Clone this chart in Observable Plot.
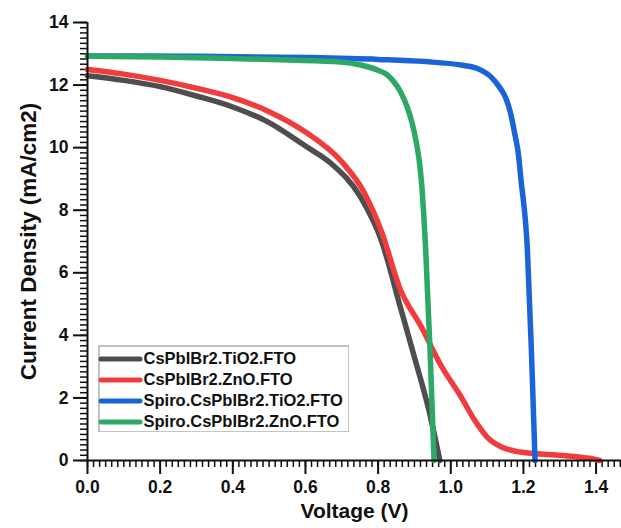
<!DOCTYPE html>
<html>
<head>
<meta charset="utf-8">
<script src="https://cdn.jsdelivr.net/npm/d3@7"></script>
<script src="https://cdn.jsdelivr.net/npm/@observablehq/plot@0.6"></script>
<style>
  html, body { margin: 0; padding: 0; background: #fff; }
  #wrap { position: relative; width: 621px; height: 528px; }
  #key { position: absolute; left: 98px; top: 345px; }
</style>
</head>
<body>
<div id="wrap"><div id="chart"></div><div id="key"></div></div>
<script>
const seriesNames = ["CsPbIBr2.TiO2.FTO", "CsPbIBr2.ZnO.FTO", "Spiro.CsPbIBr2.TiO2.FTO", "Spiro.CsPbIBr2.ZnO.FTO"];
const seriesColors = ["#4e4e4e", "#f03c3c", "#1a64d8", "#2ea866"];

const vTiO2 = [0, 0.1, 0.2, 0.3, 0.4, 0.5, 0.6, 0.67, 0.75, 0.81, 0.86, 0.9, 0.94, 0.97];
const jTiO2 = [12.3, 12.15, 11.95, 11.65, 11.3, 10.8, 10.05, 9.5, 8.45, 7.0, 4.95, 3.3, 1.6, 0];

const vZnO = [0, 0.1, 0.2, 0.3, 0.4, 0.5, 0.6, 0.7, 0.76, 0.81, 0.86, 0.92, 0.97, 1.03, 1.065, 1.1, 1.14, 1.19, 1.27, 1.34, 1.38, 1.41];
const jZnO = [12.5, 12.35, 12.15, 11.9, 11.6, 11.15, 10.5, 9.55, 8.6, 7.3, 5.5, 4.25, 3.1, 2.0, 1.3, 0.75, 0.43, 0.27, 0.19, 0.13, 0.07, 0];

const vSpiroTiO2 = [0, 0.3, 0.6, 0.8, 0.93, 1.028, 1.073, 1.11, 1.133, 1.152, 1.165, 1.176, 1.186, 1.193, 1.211, 1.222, 1.232];
const jSpiroTiO2 = [12.93, 12.92, 12.88, 12.82, 12.75, 12.64, 12.53, 12.27, 11.95, 11.57, 11.09, 10.45, 9.81, 9.01, 6.72, 3.52, 0];

const vSpiroZnO = [0, 0.2, 0.4, 0.55, 0.697, 0.752, 0.798, 0.826, 0.844, 0.862, 0.88, 0.894, 0.904, 0.913, 0.919, 0.931, 0.943, 0.954];
const jSpiroZnO = [12.92, 12.9, 12.85, 12.8, 12.74, 12.64, 12.48, 12.32, 12.1, 11.78, 11.3, 10.77, 10.24, 9.6, 8.96, 6.72, 3.52, 0];

const xTicks = [0, 0.2, 0.4, 0.6, 0.8, 1.0, 1.2, 1.4];
const yTicks = [0, 2, 4, 6, 8, 10, 12, 14];
const xMinor = d3.range(0, 89).map(i => i * 0.2 / 12).filter(v => v <= 1.47);
const yMinor = d3.range(0, 85).map(i => i / 6).filter(v => v <= 14.001);

const allV = [vTiO2, vZnO, vSpiroTiO2, vSpiroZnO];
const allJ = [jTiO2, jZnO, jSpiroTiO2, jSpiroZnO];
const rows = [];
allV.forEach((vs, s) => vs.forEach((v, i) => rows.push({series: seriesNames[s], v, j: allJ[s][i]})));

const fontFamily = "'Liberation Sans', Arial, sans-serif";
const font = {fontSize: 17.5, fontWeight: "bold", fill: "#111"};

const chart = Plot.plot({
  width: 621,
  height: 528,
  marginLeft: 87,
  marginRight: 0,
  marginTop: 22,
  marginBottom: 68,
  style: {fontFamily, background: "#fff"},
  x: {domain: [0, 1.47]},
  y: {domain: [0, 14]},
  color: {domain: seriesNames, range: seriesColors},
  marks: [
    Plot.axisX(xMinor, {tickSize: 7, tickFormat: () => "", strokeWidth: 1.5, stroke: "#111", label: null}),
    Plot.axisX(xTicks, {tickSize: 14, tickPadding: 6, tickFormat: d => d.toFixed(1), strokeWidth: 2, stroke: "#111", label: null, ...font}),
    Plot.axisY(yMinor, {tickSize: 7, tickFormat: () => "", strokeWidth: 1.5, stroke: "#111", label: null}),
    Plot.axisY(yTicks, {tickSize: 14, tickPadding: 5, strokeWidth: 2, stroke: "#111", label: null, ...font}),
    Plot.line(rows, {x: "v", y: "j", z: "series", stroke: "series", strokeWidth: 5.5, curve: "monotone-x"}),
    Plot.ruleY([0], {stroke: "#111", strokeWidth: 2}),
    Plot.ruleX([0], {stroke: "#111", strokeWidth: 2}),
    Plot.text(["Voltage (V)"], {frameAnchor: "bottom", dy: 57, fontSize: 21, fontWeight: "bold", fill: "#111"}),
    Plot.text(["Current Density (mA/cm2)"], {frameAnchor: "left", dx: -59, rotate: -90, textAnchor: "middle", fontSize: 22.5, fontWeight: "bold", fill: "#111"})
  ]
});
document.getElementById("chart").appendChild(chart);

// legend drawn as a small Plot: one band per series
const key = Plot.plot({
  width: 251,
  height: 87,
  margin: 0,
  style: {fontFamily, background: "#fff"},
  x: {domain: [0, 251], range: [0, 251], axis: null},
  y: {type: "band", domain: seriesNames, range: [2, 87], padding: 0, axis: null},
  marks: [
    Plot.frame({stroke: "#8a8a8a", inset: 0.5}),
    Plot.ruleY(seriesNames, {y: d => d, x1: 3, x2: 42, stroke: (d, i) => seriesColors[i], strokeWidth: 5, strokeLinecap: "round"}),
    Plot.text(seriesNames, {y: d => d, x: 45, textAnchor: "start", fontSize: 16.5, fontWeight: "bold", fill: "#111"})
  ]
});
document.getElementById("key").appendChild(key);
</script>
</body>
</html>
